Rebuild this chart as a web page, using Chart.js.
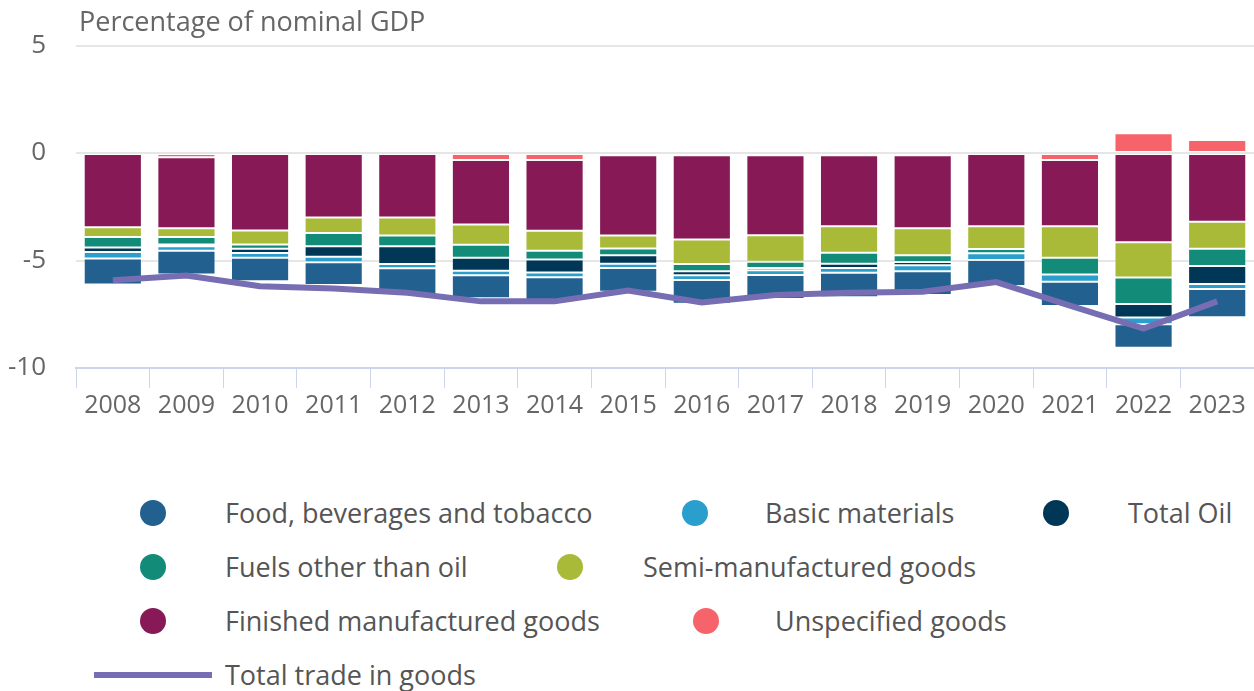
<!DOCTYPE html>
<html>
<head>
<meta charset="utf-8">
<script src="https://cdn.jsdelivr.net/npm/chart.js@4.4.1/dist/chart.umd.min.js"></script>
<style>
  html, body { margin: 0; padding: 0; background: #fff; }
  body { width: 1254px; height: 691px; position: relative; overflow: hidden; font-family: "Open Sans", sans-serif; }
  #wrap { position: absolute; left: 0; top: 0; width: 1254px; height: 424px; }
  #title { position: absolute; left: 79px; top: 2px; font-size: 27px; color: #666; white-space: nowrap; }
  .lg { position: absolute; font-size: 27px; color: #555; white-space: nowrap; line-height: 36px; }
  .dot { position: absolute; width: 26px; height: 26px; border-radius: 50%; }
  .ln { position: absolute; width: 118px; height: 6px; }
</style>
</head>
<body>
<div id="wrap"><canvas id="c"></canvas></div>
<div id="title">Percentage of nominal GDP</div>
<div id="legend"></div>
<script>
const years = ['2008','2009','2010','2011','2012','2013','2014','2015','2016','2017','2018','2019','2020','2021','2022','2023'];
const unspecified = [0,-0.20,0,0,0,-0.32,-0.32,-0.10,-0.10,-0.10,-0.10,-0.10,0.07,-0.32,0.92,0.61];
const finished = [-3.45,-3.30,-3.60,-3.00,-3.00,-3.00,-3.30,-3.73,-3.92,-3.72,-3.30,-3.40,-3.41,-3.09,-4.15,-3.19];
const semi = [-0.45,-0.41,-0.65,-0.72,-0.84,-0.94,-0.92,-0.61,-1.14,-1.24,-1.24,-1.26,-1.05,-1.46,-1.64,-1.26];
const fuels = [-0.49,-0.34,-0.20,-0.61,-0.49,-0.61,-0.41,-0.31,-0.34,-0.29,-0.51,-0.31,-0.20,-0.78,-1.23,-0.81];
const oil = [-0.21,-0.08,-0.20,-0.49,-0.83,-0.60,-0.61,-0.40,-0.18,-0.10,-0.20,-0.15,0,0,-0.63,-0.83];
const basic = [-0.31,-0.22,-0.22,-0.26,-0.20,-0.22,-0.22,-0.20,-0.23,-0.22,-0.22,-0.28,-0.31,-0.34,-0.31,-0.23];
const food = [-1.20,-1.10,-1.09,-1.06,-1.24,-1.07,-1.06,-1.10,-1.10,-1.12,-1.14,-1.10,-1.21,-1.12,-1.10,-1.32];
const totalTrade = [-5.92,-5.70,-6.20,-6.30,-6.50,-6.90,-6.90,-6.40,-6.95,-6.60,-6.50,-6.45,-6.00,-7.10,-8.17,-6.90];
const yTicks = [5, 0, -5, -10];

const C = {
  food: '#22608f', basic: '#2a9fcd', oil: '#003756', fuels: '#138b79',
  semi: '#a8ba38', finished: '#871a56', unspecified: '#f7636a', total: '#766db3'
};

function bar(label, data, color) {
  return { type: 'bar', label, data, backgroundColor: color, borderColor: 'rgba(255,255,255,0.2)',
           borderWidth: 1, borderSkipped: false, stack: 's', order: 1,
           barPercentage: 0.79, categoryPercentage: 1.0 };
}

new Chart(document.getElementById('c'), {
  data: {
    labels: years,
    datasets: [
      bar('Unspecified goods', unspecified, C.unspecified),
      bar('Finished manufactured goods', finished, C.finished),
      bar('Semi-manufactured goods', semi, C.semi),
      bar('Fuels other than oil', fuels, C.fuels),
      bar('Total Oil', oil, C.oil),
      bar('Basic materials', basic, C.basic),
      bar('Food, beverages and tobacco', food, C.food),
      { type: 'line', label: 'Total trade in goods', data: totalTrade, borderColor: C.total,
        backgroundColor: C.total, borderWidth: 6, pointRadius: 0, tension: 0, order: 0 }
    ]
  },
  options: {
    responsive: true, maintainAspectRatio: false, animation: false,
    layout: { padding: { top: 40, right: 0, left: 0, bottom: 0 } },
    plugins: { legend: { display: false }, tooltip: { enabled: false }, title: { display: false } },
    scales: {
      x: {
        stacked: true, offset: true,
        grid: { offset: true, drawOnChartArea: false, drawTicks: true, tickLength: 20, color: '#ccd6eb', lineWidth: 1 },
        border: { display: true, color: '#ccd6eb', width: 2 },
        ticks: { color: '#666', font: { family: 'Open Sans', size: 25 }, padding: 3, maxRotation: 0, autoSkip: false }
      },
      y: {
        stacked: true, min: -10, max: 5,
        afterBuildTicks: (s) => { s.ticks = yTicks.map(v => ({ value: v })); },
        afterFit: (s) => { s.width = 76; },
        grid: { color: '#e6e6e6', lineWidth: 2, drawTicks: false },
        border: { display: false },
        ticks: { color: '#666', font: { family: 'Open Sans', size: 26 }, padding: 30 }
      }
    }
  }
});

const legendItems = [
  { label: 'Food, beverages and tobacco', color: C.food, kind: 'dot' },
  { label: 'Basic materials', color: C.basic, kind: 'dot' },
  { label: 'Total Oil', color: C.oil, kind: 'dot' },
  { label: 'Fuels other than oil', color: C.fuels, kind: 'dot' },
  { label: 'Semi-manufactured goods', color: C.semi, kind: 'dot' },
  { label: 'Finished manufactured goods', color: C.finished, kind: 'dot' },
  { label: 'Unspecified goods', color: C.unspecified, kind: 'dot' },
  { label: 'Total trade in goods', color: C.total, kind: 'line' }
];
// layout: [marker centre x, text left x, row centre y]
const legendLayout = [
  [153, 225, 513], [695, 765, 513], [1056, 1128, 513],
  [153, 225, 567], [570, 643, 567],
  [153, 225, 621], [706, 775, 621],
  [153, 225, 675]
];
const lg = document.getElementById('legend');
legendItems.forEach((it, i) => {
  const [mx, tx, cy] = legendLayout[i];
  const m = document.createElement('div');
  if (it.kind === 'dot') {
    m.className = 'dot';
    m.style.left = (mx - 13) + 'px'; m.style.top = (cy - 13) + 'px';
  } else {
    m.className = 'ln';
    m.style.left = (mx - 59) + 'px'; m.style.top = (cy - 3) + 'px';
  }
  m.style.background = it.color;
  lg.appendChild(m);
  const t = document.createElement('div');
  t.className = 'lg';
  t.textContent = it.label;
  t.style.left = tx + 'px'; t.style.top = (cy - 18) + 'px';
  lg.appendChild(t);
});
</script>
</body>
</html>
